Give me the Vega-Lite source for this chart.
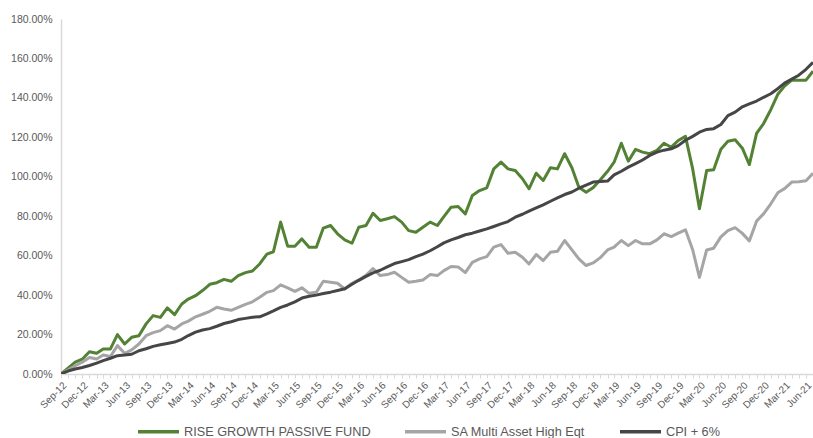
{
  "$schema": "https://vega.github.io/schema/vega-lite/v6.json",
  "width": 752,
  "height": 355,
  "autosize": {"type": "none"},
  "padding": {"left": 61, "top": 19, "right": 0, "bottom": 64},
  "background": "white",
  "config": {"view": {"stroke": null}, "font": "Liberation Sans"},
  "data": {"values": [
    {"d":"2012-09-01","fund":0,"peer":0,"cpi":0},
    {"d":"2012-10-01","fund":3,"peer":2,"cpi":1.5},
    {"d":"2012-11-01","fund":6,"peer":4.2,"cpi":2.5},
    {"d":"2012-12-01","fund":7.5,"peer":6,"cpi":3.3},
    {"d":"2013-01-01","fund":11.3,"peer":8.4,"cpi":4.3},
    {"d":"2013-02-01","fund":10.5,"peer":7.6,"cpi":5.5},
    {"d":"2013-03-01","fund":12.7,"peer":9.6,"cpi":6.8},
    {"d":"2013-04-01","fund":12.7,"peer":8.9,"cpi":8},
    {"d":"2013-05-01","fund":20,"peer":14.4,"cpi":9.3},
    {"d":"2013-06-01","fund":15.2,"peer":10.5,"cpi":9.6},
    {"d":"2013-07-01","fund":18.6,"peer":12.2,"cpi":10},
    {"d":"2013-08-01","fund":19.4,"peer":15.2,"cpi":11.8},
    {"d":"2013-09-01","fund":25.4,"peer":19.4,"cpi":12.8},
    {"d":"2013-10-01","fund":29.6,"peer":21,"cpi":14},
    {"d":"2013-11-01","fund":28.7,"peer":22,"cpi":14.8},
    {"d":"2013-12-01","fund":33.5,"peer":24.5,"cpi":15.5},
    {"d":"2014-01-01","fund":30.1,"peer":22.8,"cpi":16.2},
    {"d":"2014-02-01","fund":35.5,"peer":25.4,"cpi":17.6},
    {"d":"2014-03-01","fund":38,"peer":26.8,"cpi":19.5},
    {"d":"2014-04-01","fund":39.7,"peer":29,"cpi":21.2},
    {"d":"2014-05-01","fund":42.3,"peer":30.3,"cpi":22.3},
    {"d":"2014-06-01","fund":45.5,"peer":31.8,"cpi":23},
    {"d":"2014-07-01","fund":46.3,"peer":33.8,"cpi":24.2},
    {"d":"2014-08-01","fund":48,"peer":33,"cpi":25.6},
    {"d":"2014-09-01","fund":47,"peer":32.3,"cpi":26.5},
    {"d":"2014-10-01","fund":49.9,"peer":33.8,"cpi":27.6},
    {"d":"2014-11-01","fund":51.4,"peer":35.3,"cpi":28.2},
    {"d":"2014-12-01","fund":52.2,"peer":36.6,"cpi":28.8},
    {"d":"2015-01-01","fund":55.8,"peer":38.9,"cpi":29},
    {"d":"2015-02-01","fund":60.8,"peer":41.4,"cpi":30.5},
    {"d":"2015-03-01","fund":62,"peer":42.3,"cpi":32},
    {"d":"2015-04-01","fund":77,"peer":45.2,"cpi":33.8},
    {"d":"2015-05-01","fund":64.8,"peer":43.7,"cpi":35},
    {"d":"2015-06-01","fund":64.8,"peer":41.9,"cpi":36.6},
    {"d":"2015-07-01","fund":68.5,"peer":43.7,"cpi":38.5},
    {"d":"2015-08-01","fund":64.3,"peer":40.9,"cpi":39.4},
    {"d":"2015-09-01","fund":64.3,"peer":41.4,"cpi":40},
    {"d":"2015-10-01","fund":74,"peer":47,"cpi":40.8},
    {"d":"2015-11-01","fund":75.3,"peer":46.5,"cpi":41.5},
    {"d":"2015-12-01","fund":71.1,"peer":46,"cpi":42.3},
    {"d":"2016-01-01","fund":68,"peer":43.1,"cpi":43.2},
    {"d":"2016-02-01","fund":66.3,"peer":46,"cpi":45.5},
    {"d":"2016-03-01","fund":74.4,"peer":47.7,"cpi":47.5},
    {"d":"2016-04-01","fund":75.3,"peer":50,"cpi":49.5},
    {"d":"2016-05-01","fund":81.5,"peer":53.5,"cpi":51.3},
    {"d":"2016-06-01","fund":77.8,"peer":49.9,"cpi":52.6},
    {"d":"2016-07-01","fund":78.7,"peer":50.4,"cpi":54.3},
    {"d":"2016-08-01","fund":79.8,"peer":51.6,"cpi":56},
    {"d":"2016-09-01","fund":77,"peer":49,"cpi":57},
    {"d":"2016-10-01","fund":72.7,"peer":46.5,"cpi":58},
    {"d":"2016-11-01","fund":71.9,"peer":47,"cpi":59.5},
    {"d":"2016-12-01","fund":74.4,"peer":47.7,"cpi":60.8},
    {"d":"2017-01-01","fund":77,"peer":50.4,"cpi":62.5},
    {"d":"2017-02-01","fund":75.3,"peer":49.9,"cpi":64.5},
    {"d":"2017-03-01","fund":79.8,"peer":52.4,"cpi":66.5},
    {"d":"2017-04-01","fund":84.6,"peer":54.5,"cpi":68},
    {"d":"2017-05-01","fund":84.9,"peer":54.3,"cpi":69.2},
    {"d":"2017-06-01","fund":81.2,"peer":51.4,"cpi":70.6},
    {"d":"2017-07-01","fund":90.5,"peer":56.6,"cpi":71.4},
    {"d":"2017-08-01","fund":93,"peer":58.4,"cpi":72.5},
    {"d":"2017-09-01","fund":94.4,"peer":59.5,"cpi":73.6},
    {"d":"2017-10-01","fund":104,"peer":64.3,"cpi":74.8},
    {"d":"2017-11-01","fund":107.4,"peer":65.6,"cpi":76.1},
    {"d":"2017-12-01","fund":104,"peer":61.2,"cpi":77.3},
    {"d":"2018-01-01","fund":103.2,"peer":61.7,"cpi":79.5},
    {"d":"2018-02-01","fund":99,"peer":59.2,"cpi":81},
    {"d":"2018-03-01","fund":93.9,"peer":55.8,"cpi":82.6},
    {"d":"2018-04-01","fund":101.8,"peer":60.6,"cpi":84.2},
    {"d":"2018-05-01","fund":98.1,"peer":57.5,"cpi":85.8},
    {"d":"2018-06-01","fund":104.6,"peer":61.7,"cpi":87.6},
    {"d":"2018-07-01","fund":104,"peer":62.2,"cpi":89.3},
    {"d":"2018-08-01","fund":111.7,"peer":67.7,"cpi":91},
    {"d":"2018-09-01","fund":104.6,"peer":62.9,"cpi":92.3},
    {"d":"2018-10-01","fund":94.7,"peer":58.4,"cpi":94.2},
    {"d":"2018-11-01","fund":92.2,"peer":55,"cpi":95.8},
    {"d":"2018-12-01","fund":94.5,"peer":56.3,"cpi":97.3},
    {"d":"2019-01-01","fund":98.5,"peer":59,"cpi":97.6},
    {"d":"2019-02-01","fund":102.8,"peer":62.9,"cpi":97.8},
    {"d":"2019-03-01","fund":107.4,"peer":64.3,"cpi":101},
    {"d":"2019-04-01","fund":117,"peer":67.7,"cpi":102.8},
    {"d":"2019-05-01","fund":107.9,"peer":65.1,"cpi":104.9},
    {"d":"2019-06-01","fund":113.9,"peer":67.7,"cpi":106.7},
    {"d":"2019-07-01","fund":112.5,"peer":66,"cpi":108.5},
    {"d":"2019-08-01","fund":111.7,"peer":66,"cpi":110.8},
    {"d":"2019-09-01","fund":113.4,"peer":68,"cpi":112.5},
    {"d":"2019-10-01","fund":117,"peer":71.1,"cpi":113.5},
    {"d":"2019-11-01","fund":115,"peer":69.7,"cpi":114.2},
    {"d":"2019-12-01","fund":118.4,"peer":71.4,"cpi":115.8},
    {"d":"2020-01-01","fund":120.5,"peer":73.1,"cpi":118.5},
    {"d":"2020-02-01","fund":104,"peer":63,"cpi":120.5},
    {"d":"2020-03-01","fund":83.8,"peer":49,"cpi":122.6},
    {"d":"2020-04-01","fund":103.2,"peer":62.9,"cpi":124},
    {"d":"2020-05-01","fund":103.6,"peer":63.8,"cpi":124.4},
    {"d":"2020-06-01","fund":114,"peer":69.5,"cpi":126.5},
    {"d":"2020-07-01","fund":118,"peer":72.7,"cpi":131},
    {"d":"2020-08-01","fund":118.8,"peer":74.2,"cpi":132.8},
    {"d":"2020-09-01","fund":114.5,"peer":71.3,"cpi":135.5},
    {"d":"2020-10-01","fund":106.2,"peer":67.5,"cpi":137},
    {"d":"2020-11-01","fund":122,"peer":77.5,"cpi":138.4},
    {"d":"2020-12-01","fund":127,"peer":81.2,"cpi":140.3},
    {"d":"2021-01-01","fund":134,"peer":86.3,"cpi":142.1},
    {"d":"2021-02-01","fund":142,"peer":92,"cpi":144.8},
    {"d":"2021-03-01","fund":146,"peer":94,"cpi":147.5},
    {"d":"2021-04-01","fund":149,"peer":97.3,"cpi":149.5},
    {"d":"2021-05-01","fund":149,"peer":97.5,"cpi":151.5},
    {"d":"2021-06-01","fund":149,"peer":98,"cpi":154.5},
    {"d":"2021-07-01","fund":153.5,"peer":101.8,"cpi":158}
  ]},
  "transform": [{"fold": ["fund", "peer", "cpi"], "as": ["series", "value"]}],
  "mark": {"type": "line", "strokeWidth": 3, "strokeJoin": "round", "clip": true},
  "encoding": {
    "x": {
      "field": "d", "type": "temporal",
      "scale": {"type": "utc", "nice": false},
      "axis": {
        "title": null, "grid": false,
        "tickCount": {"interval": "month", "step": 1},
        "labelExpr": "utcmonth(datum.value) % 3 == 2 ? utcFormat(datum.value, '%b-%y') : ''",
        "labelAngle": -45, "labelAlign": "right", "labelBaseline": "top",
        "labelOverlap": false, "labelFlush": false, "labelBound": false,
        "labelFontSize": 10, "labelColor": "#595959", "labelPadding": 2,
        "domainColor": "#d9d9d9", "domainWidth": 1.5,
        "tickColor": "#d9d9d9", "tickSize": 4
      }
    },
    "y": {
      "field": "value", "type": "quantitative",
      "scale": {"domain": [0, 180], "nice": false},
      "axis": {
        "title": null, "grid": false, "ticks": false,
        "values": [0, 20, 40, 60, 80, 100, 120, 140, 160, 180],
        "labelExpr": "format(datum.value, '.2f') + '%'",
        "labelFontSize": 10.5, "labelColor": "#595959", "labelPadding": 9,
        "domainColor": "#d9d9d9", "domainWidth": 1.5
      }
    },
    "color": {
      "field": "series", "type": "nominal",
      "scale": {"domain": ["fund", "peer", "cpi"], "range": ["#548235", "#a5a5a5", "#464646"]},
      "legend": {
        "title": null, "orient": "none", "direction": "horizontal",
        "legendX": 75, "legendY": 390,
        "symbolType": "stroke", "symbolSize": 1681, "symbolStrokeWidth": 3.5,
        "labelFontSize": 12.7, "labelColor": "#595959", "labelOffset": 3,
        "labelLimit": 400, "columnPadding": 27,
        "labelExpr": "datum.label == 'fund' ? 'RISE GROWTH PASSIVE FUND' : datum.label == 'peer' ? 'SA Multi Asset High Eqt' : 'CPI + 6%'"
      }
    }
  }
}
